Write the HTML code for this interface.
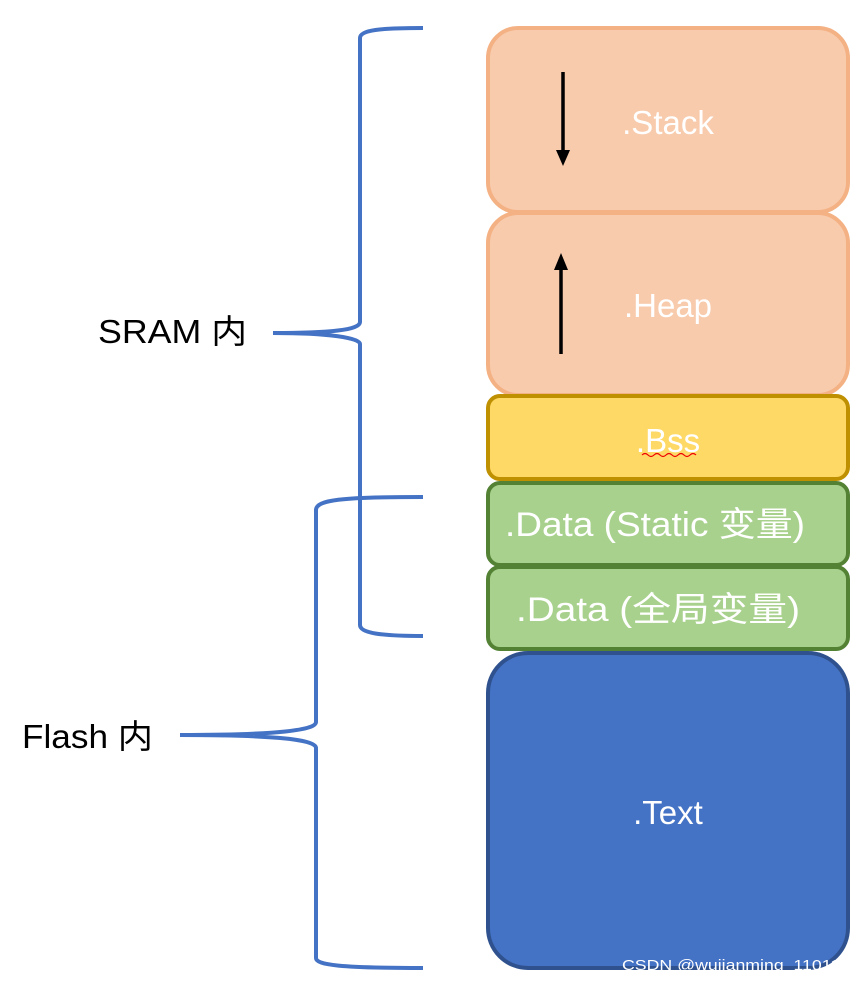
<!DOCTYPE html>
<html><head><meta charset="utf-8"><style>
html,body{margin:0;padding:0;background:#fff;width:865px;height:985px;overflow:hidden}
svg text{font-family:"Liberation Sans","Noto Sans CJK SC",sans-serif}
</style></head><body>
<svg width="865" height="985" viewBox="0 0 865 985" xmlns="http://www.w3.org/2000/svg">
<!-- boxes -->
<rect x="488" y="28" width="360" height="184" rx="30" fill="#f8cbad" stroke="#f4b183" stroke-width="4"/>
<rect x="488" y="213" width="360" height="182" rx="30" fill="#f8cbad" stroke="#f4b183" stroke-width="4"/>
<rect x="488" y="396" width="360" height="83" rx="12" fill="#ffd966" stroke="#bf9000" stroke-width="4"/>
<rect x="488" y="483" width="360" height="82" rx="12" fill="#a9d18e" stroke="#548235" stroke-width="4"/>
<rect x="488" y="567" width="360" height="82" rx="12" fill="#a9d18e" stroke="#548235" stroke-width="4"/>
<rect x="488" y="653" width="360" height="315" rx="40" fill="#4472c4" stroke="#2f528f" stroke-width="4"/>
<!-- arrows -->
<line x1="563" y1="72" x2="563" y2="152" stroke="#000" stroke-width="3.5"/>
<path d="M556,150 L570,150 L563,166 z" fill="#000"/>
<line x1="561" y1="354" x2="561" y2="268" stroke="#000" stroke-width="3.5"/>
<path d="M554,270 L568,270 L561,253 z" fill="#000"/>
<!-- labels -->
<g fill="#fff" font-size="33" text-anchor="middle">
<text x="668" y="134">.Stack</text>
<text x="668" y="317">.Heap</text>
<text x="668" y="452">.Bss</text>
<text x="655" y="536" font-size="34" textLength="300" lengthAdjust="spacingAndGlyphs">.Data (Static 变量)</text>
<text x="658" y="621" font-size="34" textLength="284" lengthAdjust="spacingAndGlyphs">.Data (全局变量)</text>
<text x="668" y="824">.Text</text>
</g>
<path d="M642,455 q3,-3 6,0 t6,0 t6,0 t6,0 t6,0 t6,0 t6,0 t6,0 t6,0" stroke="#e00" stroke-width="1.2" fill="none"/>
<!-- braces -->
<g fill="none" stroke="#4472c4" stroke-width="4">
<path d="M423,28 C380,28 360,30 360,38 L360,322 C360,330 330,333 273,333 C330,333 360,338 360,344 L360,625 C360,633 380,636 423,636"/>
<path d="M423,497 C340,497 316,500 316,510 L316,722 C316,730 280,735 180,735 C280,735 316,740 316,748 L316,958 C316,965 340,968 423,968"/>
</g>
<g fill="#000" font-size="33">
<text x="98" y="343" textLength="149" lengthAdjust="spacingAndGlyphs">SRAM 内</text>
<text x="22" y="748" textLength="131" lengthAdjust="spacingAndGlyphs">Flash 内</text>
</g>
<text x="622" y="970" font-size="15" fill="#fff" textLength="228" lengthAdjust="spacingAndGlyphs">CSDN @wujianming_110117</text>
</svg>
</body></html>
